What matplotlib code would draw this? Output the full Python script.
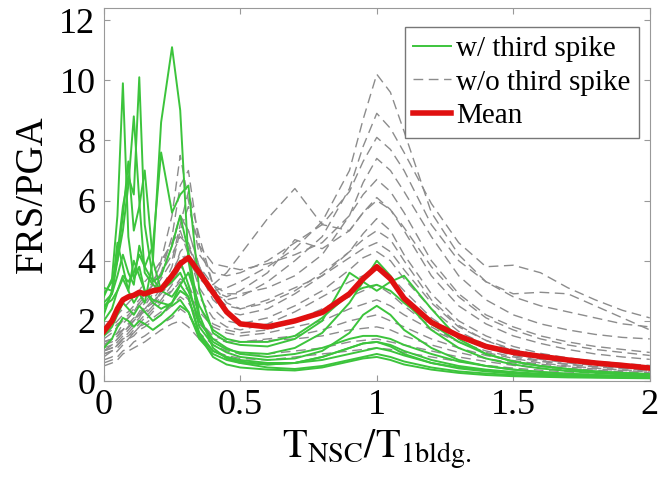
import matplotlib
matplotlib.use("Agg")
import matplotlib.pyplot as plt

plt.rcParams["font.family"] = "Liberation Serif"
plt.rcParams["mathtext.fontset"] = "stix"

# Period ratio grid shared by all spectra
x_grid = [0, .03, .05, .07, .09, .11, .13, .15, .18, .21, .25, .28, .31, .35, .4, .45, .5,
          .6, .7, .8, .9, .95, 1.0, 1.05, 1.1, 1.2, 1.3, 1.4, 1.5, 1.6, 1.7, 1.8, 1.9, 2.0]

# Floor spectra with a third spike (green)
g1 = [2.8, 3.4, 5.5, 9.9, 4.8, 3.4, 3.8, 3.0, 2.7, 2.6, 2.5, 2.7, 2.3, 1.5, 1.0, 0.8, 0.7, 0.6, 0.6, 0.7, 0.9, 1.0, 1.1, 1.0, 0.85, 0.6, 0.45, 0.35, 0.28, 0.22, 0.18, 0.15, 0.13, 0.11]
g2 = [3.1, 3.0, 4.2, 5.8, 6.8, 6.2, 10.1, 5.2, 3.4, 3.0, 3.3, 3.6, 3.0, 2.0, 1.4, 1.1, 0.9, 0.8, 0.9, 1.1, 1.4, 1.5, 1.5, 1.4, 1.2, 0.9, 0.65, 0.5, 0.38, 0.3, 0.24, 0.2, 0.17, 0.15]
g3 = [2.5, 2.7, 3.0, 3.4, 3.0, 2.6, 2.9, 2.6, 4.0, 8.6, 11.1, 9.0, 4.0, 2.0, 1.3, 1.05, 0.95, 0.9, 1.1, 1.6, 2.6, 3.3, 4.0, 3.5, 2.7, 1.7, 1.1, 0.75, 0.55, 0.42, 0.33, 0.27, 0.22, 0.19]
g4 = [2.6, 2.9, 3.5, 4.2, 3.6, 3.2, 4.5, 3.8, 4.5, 7.6, 5.6, 6.2, 6.5, 3.0, 1.6, 1.3, 1.2, 1.15, 1.4, 2.0, 3.6, 3.3, 3.0, 3.3, 3.5, 2.4, 1.4, 0.9, 0.65, 0.5, 0.4, 0.32, 0.27, 0.23]
g5 = [2.9, 3.3, 4.0, 5.0, 6.5, 8.8, 6.0, 3.6, 3.2, 3.0, 3.4, 4.0, 3.2, 1.8, 1.2, 0.95, 0.8, 0.7, 0.75, 1.0, 1.6, 2.2, 2.5, 2.2, 1.7, 1.1, 0.7, 0.5, 0.38, 0.3, 0.24, 0.2, 0.17, 0.15]
g6 = [2.4, 2.9, 4.0, 5.5, 7.3, 5.0, 5.8, 7.0, 4.0, 3.0, 2.8, 3.2, 2.8, 1.6, 1.0, 0.8, 0.65, 0.55, 0.6, 0.8, 1.1, 1.25, 1.3, 1.2, 1.0, 0.7, 0.5, 0.38, 0.3, 0.24, 0.2, 0.17, 0.15, 0.13]
g7 = [2.0, 2.4, 3.0, 3.5, 3.3, 3.6, 4.2, 3.8, 3.3, 3.5, 4.5, 5.5, 4.3, 2.2, 1.1, 0.75, 0.6, 0.45, 0.4, 0.5, 0.7, 0.8, 0.9, 0.8, 0.65, 0.45, 0.32, 0.25, 0.2, 0.17, 0.15, 0.13, 0.12, 0.1]
g8 = [1.5, 1.8, 2.2, 2.6, 2.4, 2.2, 2.5, 2.3, 2.0, 2.2, 2.6, 3.0, 2.8, 1.5, 0.8, 0.55, 0.45, 0.38, 0.35, 0.45, 0.65, 0.75, 0.8, 0.7, 0.55, 0.38, 0.27, 0.2, 0.16, 0.14, 0.12, 0.11, 0.1, 0.09]
g9 = [1.1, 1.4, 1.8, 2.1, 2.0, 1.8, 2.0, 1.9, 1.7, 1.9, 2.2, 2.5, 2.3, 1.4, 0.9, 0.7, 0.6, 0.55, 0.6, 0.8, 1.1, 1.25, 1.3, 1.15, 0.9, 0.6, 0.42, 0.32, 0.25, 0.2, 0.17, 0.15, 0.13, 0.12]
g10 = [2.2, 3.0, 4.6, 3.8, 3.0, 4.0, 3.5, 3.0, 2.6, 2.4, 2.6, 3.2, 3.6, 2.5, 1.7, 1.4, 1.3, 1.3, 1.5, 2.1, 2.9, 3.1, 3.2, 3.0, 2.6, 1.9, 1.3, 0.9, 0.65, 0.5, 0.4, 0.32, 0.27, 0.23]
green_curves = [g1, g2, g3, g4, g5, g6, g7, g8, g9, g10]

# Floor spectra without a third spike (grey dashed)
k1 = [1.3, 1.4, 1.5, 1.7, 1.9, 2.1, 2.2, 2.4, 2.6, 3.0, 3.6, 4.2, 4.0, 3.4, 3.0, 3.1, 3.3, 3.8, 4.4, 5.3, 7.0, 8.7, 10.2, 9.6, 8.3, 5.6, 4.2, 3.3, 2.8, 2.5, 2.3, 2.1, 1.9, 1.8]
k2 = [1.0, 1.2, 1.4, 1.6, 1.8, 2.0, 2.3, 2.6, 3.0, 3.5, 4.5, 5.5, 5.0, 3.8, 2.9, 2.7, 2.8, 3.3, 4.0, 4.8, 6.4, 7.8, 8.9, 8.4, 7.6, 5.9, 4.6, 3.8, 3.85, 3.6, 3.1, 2.7, 2.35, 2.1]
k3 = [1.5, 1.7, 1.9, 2.0, 2.2, 2.4, 2.6, 2.8, 3.2, 4.0, 5.5, 7.5, 6.0, 4.2, 3.6, 3.5, 3.6, 4.0, 4.6, 5.2, 6.3, 7.3, 8.1, 7.7, 7.0, 5.2, 4.0, 3.3, 2.9, 2.95, 2.9, 2.5, 2.1, 1.7]
k4 = [1.2, 1.3, 1.5, 1.7, 1.8, 2.0, 2.2, 2.5, 2.9, 3.6, 4.8, 6.5, 7.0, 4.5, 3.2, 2.9, 2.9, 3.1, 3.5, 4.2, 5.5, 6.6, 7.4, 7.0, 6.3, 4.8, 3.5, 2.7, 2.2, 1.9, 1.7, 1.55, 1.45, 1.4]
k5 = [0.9, 1.0, 1.2, 1.4, 1.6, 1.8, 2.0, 2.2, 2.5, 3.0, 3.8, 5.0, 5.8, 4.5, 3.9, 3.8, 3.7, 3.9, 4.2, 4.6, 5.5, 6.2, 6.7, 6.3, 5.6, 4.0, 2.9, 2.2, 1.8, 1.5, 1.3, 1.15, 1.05, 0.95]
k6 = [1.6, 1.8, 2.0, 2.2, 2.3, 2.5, 2.7, 2.9, 3.2, 3.6, 4.2, 4.8, 4.5, 3.6, 3.0, 2.8, 3.0, 3.6, 4.7, 4.4, 5.0, 5.6, 6.1, 5.7, 5.0, 3.5, 2.5, 1.9, 1.5, 1.25, 1.05, 0.9, 0.8, 0.72]
k7 = [1.0, 1.1, 1.3, 1.5, 1.7, 1.9, 2.1, 2.4, 2.7, 3.1, 3.5, 4.3, 4.6, 3.6, 2.7, 2.3, 2.2, 2.4, 2.9, 3.5, 4.3, 4.9, 5.4, 5.0, 4.2, 2.9, 2.0, 1.5, 1.15, 0.92, 0.77, 0.66, 0.58, 0.52]
k8 = [1.4, 1.6, 1.8, 2.0, 2.1, 2.3, 2.5, 2.7, 3.0, 3.4, 4.0, 5.2, 6.3, 4.8, 3.2, 2.6, 2.4, 2.6, 3.0, 3.6, 4.3, 4.7, 5.0, 4.7, 4.0, 2.7, 1.85, 1.35, 1.0, 0.82, 0.68, 0.58, 0.51, 0.46]
k9 = [0.8, 1.0, 1.2, 1.4, 1.5, 1.7, 1.9, 2.1, 2.4, 2.7, 3.2, 3.8, 4.4, 3.8, 2.9, 2.5, 2.4, 2.7, 3.1, 3.5, 4.1, 4.4, 4.6, 4.3, 3.7, 2.6, 1.8, 1.35, 1.05, 0.85, 0.7, 0.6, 0.52, 0.46]
k10 = [1.8, 2.0, 2.2, 2.4, 2.6, 2.8, 3.0, 3.3, 3.6, 4.0, 4.6, 5.0, 4.2, 3.1, 2.4, 2.0, 1.9, 2.1, 2.5, 3.0, 3.7, 4.1, 4.3, 4.0, 3.4, 2.4, 1.65, 1.2, 0.9, 0.72, 0.6, 0.52, 0.45, 0.41]
k11 = [1.1, 1.2, 1.4, 1.6, 1.8, 2.0, 2.2, 2.4, 2.6, 2.9, 3.3, 3.8, 3.6, 2.8, 2.1, 1.8, 1.7, 1.9, 2.3, 2.8, 3.3, 3.5, 3.7, 3.5, 3.0, 2.1, 1.5, 1.1, 0.85, 0.68, 0.56, 0.48, 0.42, 0.38]
k12 = [0.7, 0.8, 1.0, 1.2, 1.4, 1.6, 1.8, 2.0, 2.3, 2.6, 3.0, 3.4, 3.2, 2.4, 1.9, 1.7, 1.6, 1.7, 2.0, 2.4, 2.8, 3.0, 3.2, 2.9, 2.5, 1.8, 1.3, 0.95, 0.75, 0.6, 0.5, 0.43, 0.37, 0.33]
k13 = [1.3, 1.4, 1.6, 1.7, 1.9, 2.0, 2.2, 2.3, 2.5, 2.8, 3.0, 3.3, 3.0, 2.3, 1.8, 1.6, 1.5, 1.6, 1.8, 2.0, 2.4, 2.55, 2.7, 2.5, 2.2, 1.7, 1.3, 1.0, 0.8, 0.65, 0.55, 0.47, 0.41, 0.37]
k14 = [0.9, 1.0, 1.1, 1.3, 1.4, 1.5, 1.7, 1.8, 2.0, 2.2, 2.5, 2.8, 2.6, 2.0, 1.5, 1.35, 1.3, 1.4, 1.5, 1.7, 2.0, 2.1, 2.2, 2.0, 1.8, 1.4, 1.1, 0.85, 0.68, 0.56, 0.47, 0.4, 0.35, 0.31]
k15 = [1.0, 1.1, 1.2, 1.4, 1.5, 1.6, 1.8, 1.9, 2.1, 2.3, 2.6, 3.0, 2.7, 1.9, 1.4, 1.3, 1.3, 1.35, 1.4, 1.5, 1.7, 1.75, 1.8, 1.7, 1.5, 1.2, 0.95, 0.75, 0.6, 0.5, 0.42, 0.36, 0.31, 0.28]
k16 = [0.6, 0.7, 0.8, 1.0, 1.1, 1.3, 1.4, 1.5, 1.7, 1.9, 2.1, 2.4, 2.2, 1.6, 1.2, 1.0, 0.9, 0.9, 1.0, 1.1, 1.3, 1.35, 1.4, 1.3, 1.2, 1.0, 0.8, 0.65, 0.52, 0.43, 0.36, 0.31, 0.27, 0.24]
k17 = [0.5, 0.6, 0.7, 0.9, 1.0, 1.1, 1.2, 1.3, 1.5, 1.7, 1.9, 2.0, 1.8, 1.4, 1.0, 0.85, 0.75, 0.7, 0.8, 0.9, 1.0, 1.05, 1.1, 1.05, 0.95, 0.8, 0.65, 0.52, 0.43, 0.36, 0.3, 0.26, 0.23, 0.2]
k18 = [1.2, 1.4, 1.6, 1.9, 2.1, 2.3, 2.6, 2.9, 3.3, 3.9, 4.6, 5.5, 5.0, 3.8, 3.2, 3.6, 4.2, 5.4, 6.4, 5.2, 5.0, 5.6, 6.0, 5.7, 5.1, 3.8, 2.8, 2.1, 1.7, 1.4, 1.2, 1.05, 0.95, 0.85]
grey_curves = [k1, k2, k3, k4, k5, k6, k7, k8, k9, k10, k11, k12, k13, k14, k15, k16, k17, k18]

# Mean spectrum
mean_curve = [1.65, 2.0, 2.4, 2.7, 2.8, 2.85, 2.95, 2.9, 3.0, 3.05, 3.5, 3.9, 4.1, 3.6, 2.95, 2.3, 1.9,
              1.8, 2.0, 2.28, 2.9, 3.4, 3.8, 3.4, 2.75, 1.95, 1.5, 1.15, 0.95, 0.82, 0.7, 0.6, 0.52, 0.43]

fig = plt.figure(figsize=(6.61, 5.04), dpi=100)
ax = fig.add_axes([0.157, 0.244, 0.826, 0.74])

for i, c in enumerate(grey_curves):
    ax.plot(x_grid, c, color="#8c8c8c", lw=1.0, dashes=(7, 4),
            label="w/o third spike" if i == 0 else None, zorder=2)
for i, c in enumerate(green_curves):
    ax.plot(x_grid, c, color="#3cc43c", lw=1.4,
            label="w/ third spike" if i == 0 else None, zorder=3)
ax.plot(x_grid, mean_curve, color="#e01010", lw=4, label="Mean", zorder=4)

ax.set_xlim(0, 2)
ax.set_ylim(0, 12.4)
ax.set_xticks([0, 0.5, 1, 1.5, 2])
ax.set_xticklabels(["0", "0.5", "1", "1.5", "2"])
ax.set_yticks([0, 2, 4, 6, 8, 10, 12])
ax.tick_params(direction="in", top=True, right=True, labelsize=26, length=4,
               color="#999999", pad=6)
for s in ax.spines.values():
    s.set_color("#999999")

ax.set_xlabel(r"$\mathrm{T_{NSC}/T_{1bldg.}}$", fontsize=29, labelpad=4)
ax.set_ylabel("FRS/PGA", fontsize=28, labelpad=6)

h, l = ax.get_legend_handles_labels()
order = [1, 0, 2]
leg = ax.legend([h[i] for i in order], [l[i] for i in order], loc="upper right",
                bbox_to_anchor=(0.98, 0.95), fontsize=21, handlelength=1.3,
                handletextpad=0.15, borderpad=0.3, labelspacing=0.25,
                fancybox=False, framealpha=1, borderaxespad=0)
leg.get_frame().set_edgecolor("#777777")
leg.get_frame().set_linewidth(1.0)

fig.savefig("out.png", dpi=100)
